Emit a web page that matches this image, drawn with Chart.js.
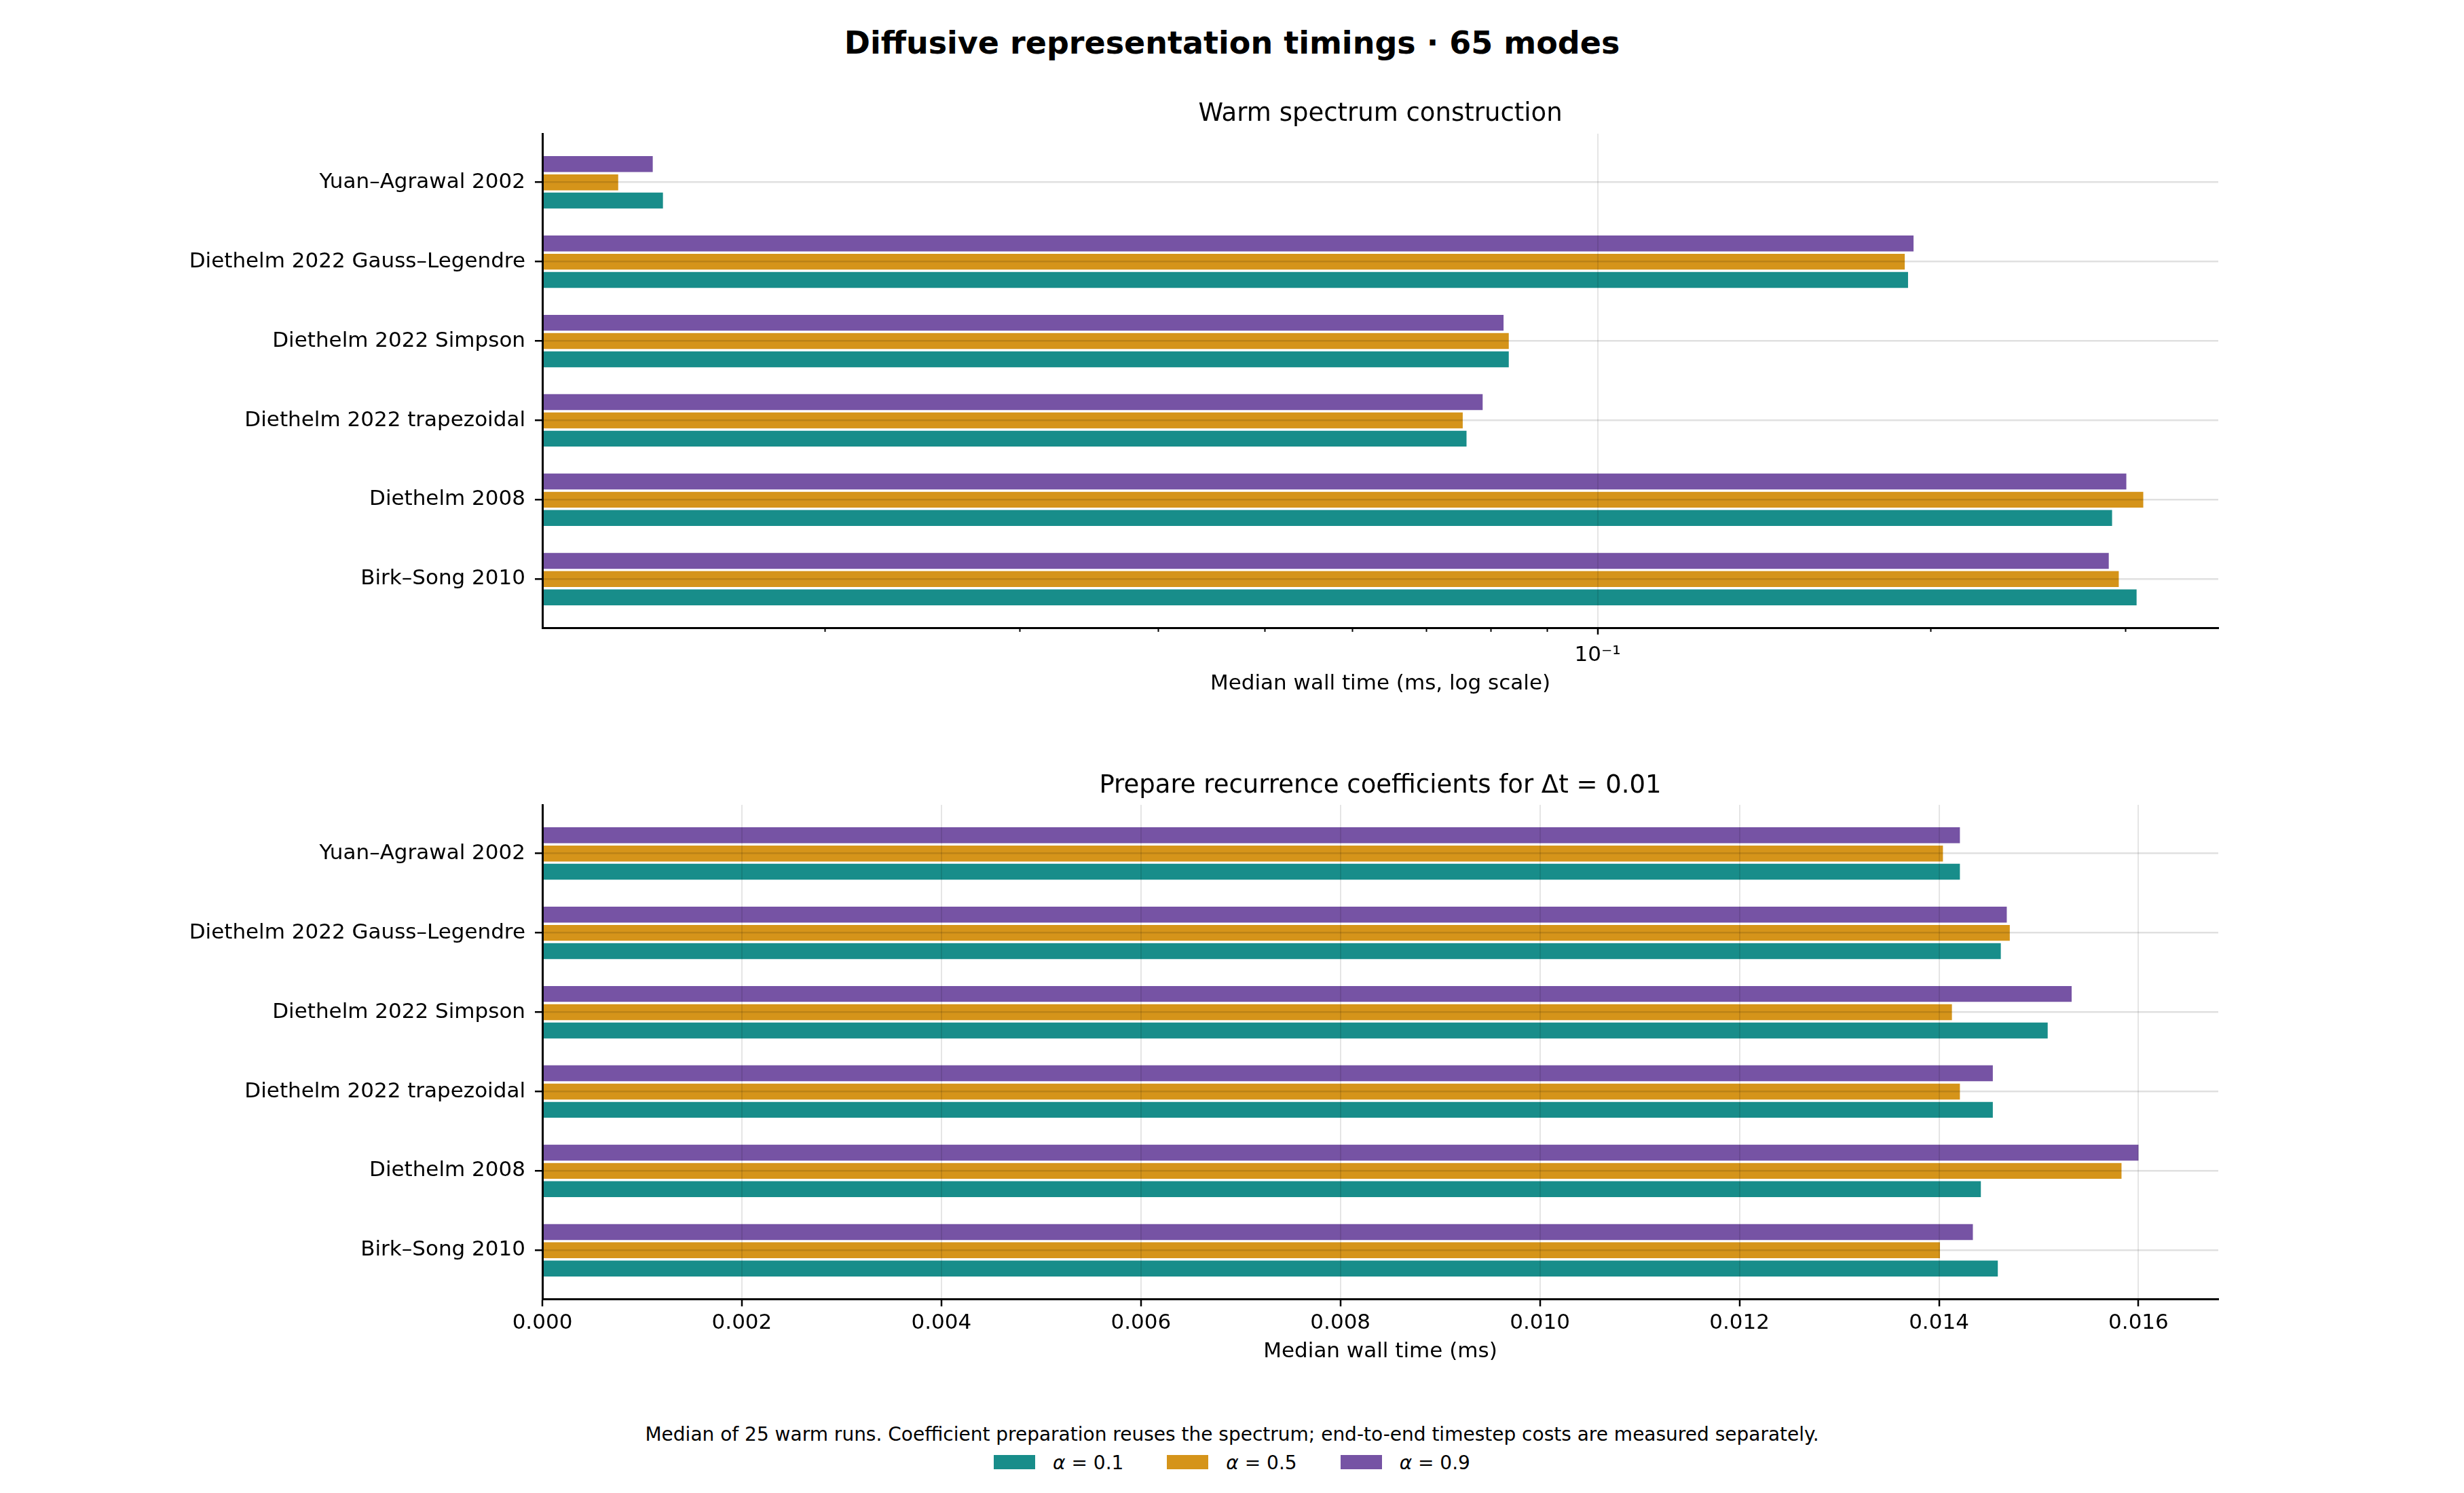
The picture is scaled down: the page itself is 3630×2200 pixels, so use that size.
<!DOCTYPE html>
<html>
<head>
<meta charset="utf-8">
<script src="https://cdn.jsdelivr.net/npm/chart.js@4.4.1/dist/chart.umd.min.js"></script>
<style>
  body { margin: 0; background: #fff; font-family: 'DejaVu Sans', sans-serif; color: #000; }
  #fig { position: relative; width: 3630px; height: 2200px; overflow: hidden; background: #fff; }
  #suptitle { position: absolute; left: 0; top: 36px; width: 3630px; text-align: center;
              font-weight: bold; font-size: 46px; line-height: 54px; }
  canvas { position: absolute; left: 0; }
  #warmChart { top: 146px; }
  #prepChart { top: 1136px; }
  #note { position: absolute; left: 0; top: 2097px; width: 3630px; text-align: center;
          font-size: 28px; line-height: 33px; }
  #legend { position: absolute; left: 0; top: 2139px; width: 3630px; display: flex;
            justify-content: center; align-items: flex-start; font-size: 28px; line-height: 33px; }
  .item { display: flex; align-items: flex-start; margin: 0 32px; }
  .swatch { width: 61px; height: 21px; margin-top: 5px; margin-right: 26px; }
</style>
</head>
<body>
<div id="fig">
  <div id="suptitle">Diffusive representation timings · 65 modes</div>
  <canvas id="warmChart" width="3630" height="881"></canvas>
  <canvas id="prepChart" width="3630" height="875"></canvas>
  <div id="note">Median of 25 warm runs. Coefficient preparation reuses the spectrum; end-to-end timestep costs are measured separately.</div>
  <div id="legend"></div>
</div>
<script>
// methods, top to bottom
const methods = [
  'Yuan–Agrawal 2002',
  'Diethelm 2022 Gauss–Legendre',
  'Diethelm 2022 Simpson',
  'Diethelm 2022 trapezoidal',
  'Diethelm 2008',
  'Birk–Song 2010'
];
const alphas = ['0.1', '0.5', '0.9'];
const alphaColors = ['#188d8a', '#d5941a', '#7653a4'];

// warm spectrum construction, median ms (log axis)
const warmA01 = [0.01427, 0.1909, 0.0831, 0.0761, 0.2920, 0.3073];
const warmA05 = [0.0130, 0.1896, 0.0831, 0.0755, 0.3116, 0.2961];
const warmA09 = [0.01397, 0.1931, 0.0822, 0.0787, 0.3008, 0.2900];

// prepare recurrence coefficients, median ms
const prepA01 = [0.01421, 0.01462, 0.01509, 0.01454, 0.01442, 0.01459];
const prepA05 = [0.01404, 0.01471, 0.01413, 0.01421, 0.01583, 0.01401];
const prepA09 = [0.01421, 0.01468, 0.01533, 0.01454, 0.01600, 0.01434];

// axis ticks
const warmTicks = [0.02, 0.03, 0.04, 0.05, 0.06, 0.07, 0.08, 0.09, 0.1, 0.2, 0.3];
const warmTickLabels = { 0.1: '10⁻¹' };
const prepTicks = [0, 0.002, 0.004, 0.006, 0.008, 0.010, 0.012, 0.014, 0.016];

const warmSeries = [warmA01, warmA05, warmA09];
const prepSeries = [prepA01, prepA05, prepA09];

Chart.defaults.font.family = "'DejaVu Sans', sans-serif";
Chart.defaults.color = '#000';

function toPoints(values) {
  return values.map((v, i) => ({ x: v, y: i }));
}

// alpha = 0.9 sits on top of each group, so datasets go in reverse
function makeDatasets(series) {
  return [2, 1, 0].map(k => ({
    label: 'α = ' + alphas[k],
    data: toPoints(series[k]),
    backgroundColor: alphaColors[k],
    borderWidth: 0,
    categoryPercentage: 0.69,
    barPercentage: 0.87
  }));
}

function methodAxis() {
  return {
    type: 'linear',
    reverse: true,
    offset: false,
    min: -0.613,
    max: 5.613,
    afterBuildTicks: scale => { scale.ticks = methods.map((m, i) => ({ value: i })); },
    afterFit: scale => { scale.width = 799; },
    ticks: {
      z: 1,
      autoSkip: false,
      padding: 14,
      font: { size: 31 },
      callback: v => methods[v]
    },
    grid: { z: 1, offset: false, color: 'rgba(0,0,0,0.12)', lineWidth: 2.5, tickLength: 11,
            tickColor: '#000', tickWidth: 2.5 },
    border: { z: 1, display: true, color: '#000', width: 3 }
  };
}

function titleOpts(text, padBottom) {
  return {
    display: true,
    fullSize: false,
    text: text,
    font: { size: 37, weight: 'normal', lineHeight: 1.2 },
    color: '#000',
    padding: { top: 0, bottom: padBottom }
  };
}

const isLabelled = v => Object.prototype.hasOwnProperty.call(warmTickLabels, v);

// shorter tick marks for the unlabelled log ticks
const minorTicks = {
  id: 'minorTicks',
  afterDraw(chart) {
    const xs = chart.scales.x;
    const ctx = chart.ctx;
    const b = chart.chartArea.bottom;
    ctx.save();
    ctx.strokeStyle = '#000';
    ctx.lineWidth = 2;
    xs.ticks.forEach(t => {
      if (isLabelled(t.value)) return;
      const px = Math.round(xs.getPixelForValue(t.value)) + 0.5;
      ctx.beginPath();
      ctx.moveTo(px, b);
      ctx.lineTo(px, b + 6);
      ctx.stroke();
    });
    ctx.restore();
  }
};

new Chart(document.getElementById('warmChart'), {
  type: 'bar',
  data: { datasets: makeDatasets(warmSeries) },
  plugins: [minorTicks],
  options: {
    indexAxis: 'y',
    responsive: false,
    animation: false,
    devicePixelRatio: 1,
    layout: { padding: { left: 0, right: 362, top: 0, bottom: 0 } },
    plugins: {
      legend: { display: false },
      tooltip: { enabled: false },
      title: titleOpts('Warm spectrum construction', 6.6)
    },
    scales: {
      x: {
        type: 'logarithmic',
        min: 0.0111,
        max: 0.3643,
        bounds: 'data',
        offset: false,
        afterBuildTicks: scale => { scale.ticks = warmTicks.map(v => ({ value: v, major: isLabelled(v) })); },
        afterFit: scale => { scale.height = 102; },
        ticks: {
          z: 1,
          autoSkip: false,
          maxRotation: 0,
          padding: 12,
          font: { size: 31 },
          callback: v => warmTickLabels[v] || ''
        },
        grid: {
          z: 1,
          offset: false,
          color: ctx => (ctx.tick && isLabelled(ctx.tick.value)) ? 'rgba(0,0,0,0.1)' : 'rgba(0,0,0,0)',
          lineWidth: 2,
          tickLength: 10,
          tickColor: ctx => (ctx.tick && isLabelled(ctx.tick.value)) ? '#000' : 'rgba(0,0,0,0)',
          tickWidth: 2.5
        },
        border: { z: 1, display: true, color: '#000', width: 3 },
        title: { display: true, text: 'Median wall time (ms, log scale)', font: { size: 31 },
                 padding: { top: 0, bottom: 0 } }
      },
      y: methodAxis()
    }
  }
});

new Chart(document.getElementById('prepChart'), {
  type: 'bar',
  data: { datasets: makeDatasets(prepSeries) },
  options: {
    indexAxis: 'y',
    responsive: false,
    animation: false,
    devicePixelRatio: 1,
    layout: { padding: { left: 0, right: 362, top: 0, bottom: 0 } },
    plugins: {
      legend: { display: false },
      tooltip: { enabled: false },
      title: titleOpts('Prepare recurrence coefficients for Δt = 0.01', 5.6)
    },
    scales: {
      x: {
        type: 'linear',
        min: 0,
        max: 0.0168,
        bounds: 'data',
        offset: false,
        afterBuildTicks: scale => { scale.ticks = prepTicks.map(v => ({ value: v })); },
        afterFit: scale => { scale.height = 97; },
        ticks: {
          z: 1,
          autoSkip: false,
          maxRotation: 0,
          padding: 6,
          font: { size: 31 },
          callback: v => v.toFixed(3)
        },
        grid: { z: 1, offset: false, color: 'rgba(0,0,0,0.1)', lineWidth: 2, tickLength: 11,
                tickColor: '#000', tickWidth: 2.5 },
        border: { z: 1, display: true, color: '#000', width: 3 },
        title: { display: true, text: 'Median wall time (ms)', font: { size: 31 },
                 padding: { top: 0, bottom: 0 } }
      },
      y: methodAxis()
    }
  }
});

// shared legend below the footnote
const legend = document.getElementById('legend');
alphas.forEach((a, k) => {
  const item = document.createElement('div');
  item.className = 'item';
  item.innerHTML = '<div class="swatch" style="background:' + alphaColors[k] + '"></div>' +
                   '<span><i>α</i> = ' + a + '</span>';
  legend.appendChild(item);
});
</script>
</body>
</html>
